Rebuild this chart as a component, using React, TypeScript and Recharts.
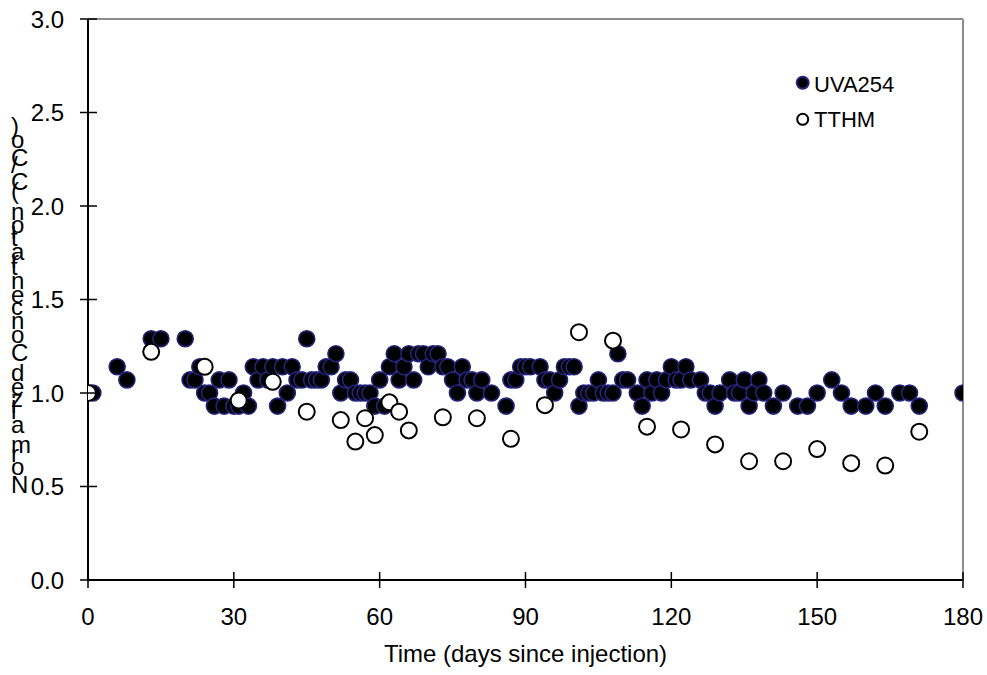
import { ScatterChart, Scatter, XAxis, YAxis, ReferenceLine, Legend } from "recharts";

// UVA254 normalized values (C/Co)
const uvaDays = [
    1, 6, 8, 13, 15, 20, 21, 22, 23, 24, 25, 26, 27, 28, 29, 30, 31, 32, 33, 34, 35, 36, 37, 38, 39, 40,
    41, 42, 43, 44, 45, 46, 47, 48, 49, 50, 51, 52, 53, 54, 55, 56, 57, 58, 59, 60, 61, 62, 63, 64, 65,
    66, 67, 68, 69, 70, 71, 72, 73, 74, 75, 76, 77, 78, 79, 80, 81, 83, 86, 87, 88, 89, 90, 91, 93, 94,
    95, 96, 97, 98, 99, 100, 101, 102, 103, 104, 105, 106, 107, 108, 109, 110, 111, 113, 114, 115, 116,
    117, 118, 119, 120, 121, 122, 123, 124, 126, 127, 128, 129, 130, 132, 133, 134, 135, 136, 137, 138,
    139, 141, 143, 146, 148, 150, 153, 155, 157, 160, 162, 164, 167, 169, 171, 180,
];
const uvaValues = [
    1.0, 1.14, 1.07, 1.29, 1.29, 1.29, 1.07, 1.07, 1.14, 1.0, 1.0, 0.93, 1.07, 0.93, 1.07, 0.93, 0.93, 1.0, 0.93, 1.14, 1.07, 1.14, 1.07, 1.14, 0.93, 1.14,
    1.0, 1.14, 1.07, 1.07, 1.29, 1.07, 1.07, 1.07, 1.14, 1.14, 1.21, 1.0, 1.07, 1.07, 1.0, 1.0, 1.0, 1.0, 0.93, 1.07, 0.93, 1.14, 1.21, 1.07, 1.14,
    1.21, 1.07, 1.21, 1.21, 1.14, 1.21, 1.21, 1.14, 1.14, 1.07, 1.0, 1.14, 1.07, 1.07, 1.0, 1.07, 1.0, 0.93, 1.07, 1.07, 1.14, 1.14, 1.14, 1.14, 1.07,
    1.07, 1.0, 1.07, 1.14, 1.14, 1.14, 0.93, 1.0, 1.0, 1.0, 1.07, 1.0, 1.0, 1.0, 1.21, 1.07, 1.07, 1.0, 0.93, 1.07, 1.0,
    1.07, 1.0, 1.07, 1.14, 1.07, 1.07, 1.14, 1.07, 1.07, 1.0, 1.0, 0.93, 1.0, 1.07, 1.0, 1.0, 1.07, 0.93, 1.0, 1.07,
    1.0, 0.93, 1.0, 0.93, 0.93, 1.0, 1.07, 1.0, 0.93, 0.93, 1.0, 0.93, 1.0, 1.0, 0.93, 1.0,
];

// TTHM normalized values (C/Co)
const tthmDays = [0, 13, 24, 31, 38, 45, 52, 55, 57, 59, 62, 64, 66, 73, 80, 87, 94, 101, 108, 115, 122, 129, 136, 143, 150, 157, 164, 171];
const tthmValues = [
    1.0, 1.22, 1.14, 0.96, 1.06, 0.9, 0.855, 0.74, 0.865, 0.775, 0.95, 0.9, 0.8, 0.87, 0.865, 0.755, 0.935, 1.325, 1.28,
    0.82, 0.805, 0.725, 0.635, 0.635, 0.7, 0.625, 0.612, 0.793,
];

const xTicks = [0, 30, 60, 90, 120, 150, 180];
const yTicks = [0, 0.5, 1.0, 1.5, 2.0, 2.5, 3.0];

const uvaData = uvaDays.map((day, i) => ({ day, value: uvaValues[i] }));
const tthmData = tthmDays.map((day, i) => ({ day, value: tthmValues[i] }));

const FONT = "'Liberation Sans', Arial, sans-serif";

function YTick(props: any) {
    const { x, y, payload } = props;
    return (
        <g>
            <line x1={x} y1={y} x2={x + 17} y2={y} stroke="#000" strokeWidth={1.5} />
            <text x={x - 16} y={y} dy="0.36em" textAnchor="end" fontSize={24} fontFamily={FONT} fill="#000">
                {Number(payload.value).toFixed(1)}
            </text>
        </g>
    );
}

function XTick(props: any) {
    const { x, y, payload } = props;
    return (
        <g>
            <line x1={x} y1={y - 16} x2={x} y2={y} stroke="#000" strokeWidth={1.5} />
            <text x={x} y={y + 37} textAnchor="middle" fontSize={24} fontFamily={FONT} fill="#000">
                {payload.value}
            </text>
        </g>
    );
}

function XLabel() {
    return (
        <text x={525.5} y={662} textAnchor="middle" fontSize={24} fontFamily={FONT} fill="#000">
            Time (days since injection)
        </text>
    );
}

// stacked upright letters, like the original spreadsheet export
function YLabel() {
    return (
        <text
            transform="translate(11,493) rotate(-90)"
            rotate="90"
            letterSpacing={0.4}
            fontSize={24}
            fontFamily={FONT}
            fill="#000">
            Normalized Concentration (C/Co)
        </text>
    );
}

const UvaDot = (p: any) => <circle cx={p.cx} cy={p.cy} r={8} fill="#000" stroke="#23237a" strokeWidth={1.6} />;
const TthmDot = (p: any) => <circle cx={p.cx} cy={p.cy} r={8} fill="#fff" stroke="#000" strokeWidth={2} />;

function LegendBox() {
    return (
        <svg width={120} height={70}>
            <circle cx={12.7} cy={14.7} r={6} fill="#000" stroke="#23237a" strokeWidth={2} />
            <text x={24} y={23.5} fontSize={22} fontFamily={FONT} fill="#000">UVA254</text>
            <circle cx={12.7} cy={51.3} r={5.5} fill="#fff" stroke="#000" strokeWidth={2} />
            <text x={24} y={59} fontSize={22} fontFamily={FONT} fill="#000">TTHM</text>
        </svg>
    );
}

export default function App() {
    return (
        <div style={{ position: "absolute", left: 0, top: 0, width: 987, height: 675, background: "#fff" }}>
            <ScatterChart width={987} height={675} margin={{ top: 19, right: 24, bottom: 0, left: 0 }}>
                <XAxis
                    type="number"
                    dataKey="day"
                    domain={[0, 180]}
                    ticks={xTicks}
                    interval={0}
                    height={95}
                    tickSize={8}
                    tickMargin={0}
                    tickLine={false}
                    axisLine={{ stroke: "#000", strokeWidth: 2 }}
                    tick={<XTick />}
                    label={<XLabel />}
                    allowDataOverflow
                />
                <YAxis
                    type="number"
                    dataKey="value"
                    domain={[0, 3]}
                    ticks={yTicks}
                    interval={0}
                    width={88}
                    tickSize={8}
                    tickMargin={0}
                    tickLine={false}
                    axisLine={{ stroke: "#000", strokeWidth: 2 }}
                    tick={<YTick />}
                    label={<YLabel />}
                    allowDataOverflow
                />
                <ReferenceLine y={3} stroke="#8c8c8c" strokeWidth={2} />
                <ReferenceLine x={180} stroke="#8c8c8c" strokeWidth={2} />
                <Scatter name="UVA254" data={uvaData} shape={UvaDot} isAnimationActive={false} />
                <Scatter name="TTHM" data={tthmData} shape={TthmDot} isAnimationActive={false} />
                <Legend
                    content={<LegendBox />}
                    layout="horizontal"
                    verticalAlign="middle"
                    align="center"
                    wrapperStyle={{ position: "absolute", left: 790, top: 68, width: 120, height: 70 }}
                />
            </ScatterChart>
        </div>
    );
}
